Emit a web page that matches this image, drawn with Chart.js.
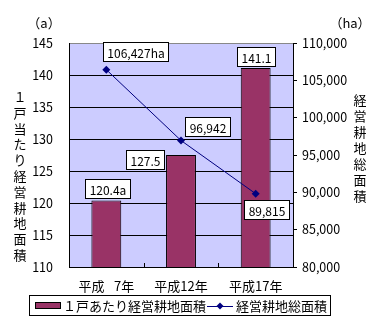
<!DOCTYPE html>
<html lang="ja">
<head>
<meta charset="utf-8">
<script src="https://cdn.jsdelivr.net/npm/chart.js@4"></script>
<style>
  html, body { margin: 0; padding: 0; background: #fff; }
  canvas { display: block; }
</style>
</head>
<body>
<canvas id="chart" width="370" height="322"></canvas>
<script>
// Survey years and values
const years = ['平成\u2002 7年', '平成12年', '平成17年'];
const areaPerFarm = [120.4, 127.5, 141.1];   // a (left axis, bars)
const totalArea = [106427, 96942, 89815];    // ha (right axis, line)

// Axis ticks
const perFarmTicks = [110, 115, 120, 125, 130, 135, 140, 145];
const totalTicks = [80000, 85000, 90000, 95000, 100000, 105000, 110000];

const barName = '１戸あたり経営耕地面積';
const lineName = '経営耕地総面積';
const leftTitle = '１戸当たり経営耕地面積';
const rightTitle = '経営耕地総面積';

const FONT = '"Noto Sans CJK JP", "Noto Sans", sans-serif';
const BAR_COLOR = '#993366';
const LINE_COLOR = '#000080';

// where each value box sits relative to its mark
const barLabelShift = [[1, -12], [-36, 4], [0, -11]];
const lineLabelShift = [[29, -18], [26, -14], [11, 16]];

function drawBox(ctx, text, cx, cy) {
    ctx.font = '12px ' + FONT;
    const w = Math.round(ctx.measureText(text).width) + 8;
    const h = 19;
    const x = Math.round(cx - w / 2) + 0.5;
    const y = Math.round(cy - h / 2) + 0.5;
    ctx.fillStyle = '#fff';
    ctx.fillRect(x, y, w, h);
    ctx.strokeStyle = '#000';
    ctx.lineWidth = 1;
    ctx.strokeRect(x, y, w, h);
    ctx.fillStyle = '#000';
    ctx.textAlign = 'center';
    ctx.textBaseline = 'middle';
    ctx.fillText(text, x + w / 2, y + h / 2 + 1);
}

const plotBackground = {
    id: 'plotBackground',
    beforeDraw(chart) {
        const { ctx, chartArea: a } = chart;
        ctx.save();
        ctx.fillStyle = '#ccccff';
        ctx.fillRect(a.left, a.top, a.right - a.left, a.bottom - a.top);
        ctx.restore();
    }
};

// small inward ticks on the category axis, between the groups
const innerTicks = {
    id: 'innerTicks',
    afterDatasetsDraw(chart) {
        const { ctx, chartArea: a } = chart;
        const xs = chart.scales.x;
        ctx.save();
        ctx.strokeStyle = '#000';
        ctx.lineWidth = 1;
        for (let i = 0; i < years.length - 1; i++) {
            const px = Math.round((xs.getPixelForTick(i) + xs.getPixelForTick(i + 1)) / 2) + 0.5;
            ctx.beginPath();
            ctx.moveTo(px, a.bottom);
            ctx.lineTo(px, a.bottom - 4);
            ctx.stroke();
        }
        ctx.restore();
    }
};

const valueLabels = {
    id: 'valueLabels',
    afterDatasetsDraw(chart) {
        const ctx = chart.ctx;
        ctx.save();
        chart.getDatasetMeta(0).data.forEach((bar, i) => {
            const text = areaPerFarm[i].toFixed(1) + (i === 0 ? 'a' : '');
            drawBox(ctx, text, bar.x + barLabelShift[i][0], bar.y + barLabelShift[i][1]);
        });
        chart.getDatasetMeta(1).data.forEach((pt, i) => {
            const text = totalArea[i].toLocaleString('en-US') + (i === 0 ? 'ha' : '');
            drawBox(ctx, text, pt.x + lineLabelShift[i][0], pt.y + lineLabelShift[i][1]);
        });
        ctx.restore();
    }
};

// unit marks, upright vertical axis titles and the boxed legend
const decorations = {
    id: 'decorations',
    afterDraw(chart) {
        const ctx = chart.ctx;
        ctx.save();
        ctx.fillStyle = '#000';
        ctx.textAlign = 'center';
        ctx.textBaseline = 'middle';
        ctx.font = '13px ' + FONT;
        ctx.fillText('（a）', 44, 23);
        ctx.fillText('（ha）', 350, 23);

        [...leftTitle].forEach((ch, i) => ctx.fillText(ch, 20, 97 + i * 15.8));
        [...rightTitle].forEach((ch, i) => ctx.fillText(ch, 360, 100 + i * 16));

        // legend
        ctx.strokeStyle = '#000';
        ctx.lineWidth = 1;
        ctx.strokeRect(29.5, 295.5, 301, 20);

        ctx.fillStyle = BAR_COLOR;
        ctx.fillRect(35.5, 302.5, 25, 6);
        ctx.strokeRect(35.5, 302.5, 25, 6);

        ctx.fillStyle = '#000';
        ctx.textAlign = 'left';
        const ty = 306;
        ctx.fillText(barName, 63, ty);
        const x1 = 63 + ctx.measureText(barName).width + 1;

        ctx.strokeStyle = LINE_COLOR;
        ctx.beginPath();
        ctx.moveTo(x1, ty + 0.5);
        ctx.lineTo(x1 + 26, ty + 0.5);
        ctx.stroke();
        ctx.fillStyle = LINE_COLOR;
        const dx = x1 + 13;
        ctx.beginPath();
        ctx.moveTo(dx, ty - 3.5);
        ctx.lineTo(dx + 3.5, ty);
        ctx.lineTo(dx, ty + 3.5);
        ctx.lineTo(dx - 3.5, ty);
        ctx.closePath();
        ctx.fill();

        ctx.fillStyle = '#000';
        ctx.fillText(lineName, x1 + 29, ty);
        ctx.restore();
    }
};

new Chart(document.getElementById('chart'), {
    data: {
        labels: years,
        datasets: [
            {
                type: 'bar',
                label: barName,
                data: areaPerFarm,
                yAxisID: 'y',
                backgroundColor: BAR_COLOR,
                borderColor: '#000',
                borderWidth: 1,
                barPercentage: 0.4,
                categoryPercentage: 1.0,
                order: 1
            },
            {
                type: 'line',
                label: lineName,
                data: totalArea,
                yAxisID: 'y1',
                borderColor: LINE_COLOR,
                borderWidth: 1,
                pointStyle: 'rectRot',
                pointRadius: 4,
                pointBackgroundColor: LINE_COLOR,
                pointBorderColor: LINE_COLOR,
                pointBorderWidth: 0,
                tension: 0,
                order: 0
            }
        ]
    },
    options: {
        responsive: false,
        devicePixelRatio: 1,
        animation: false,
        layout: { padding: { top: 43, left: 0, right: 0, bottom: 0 } },
        plugins: {
            legend: { display: false },
            tooltip: { enabled: false }
        },
        scales: {
            x: {
                offset: true,
                grid: { display: false, drawTicks: false },
                border: { display: true, color: '#000', width: 1 },
                ticks: { color: '#000', font: { family: FONT, size: 13 }, padding: 11 },
                afterFit(scale) { scale.height = 55; }
            },
            y: {
                position: 'left',
                min: perFarmTicks[0],
                max: perFarmTicks[perFarmTicks.length - 1],
                grid: {
                    drawTicks: false,
                    color: ctx => ctx.tick && ctx.tick.value === perFarmTicks[perFarmTicks.length - 1] ? '#888' : '#000'
                },
                border: { display: true, color: '#000', width: 1 },
                ticks: {
                    stepSize: perFarmTicks[1] - perFarmTicks[0],
                    color: '#000',
                    font: { family: FONT, size: 12.5 },
                    padding: 16
                },
                afterFit(scale) { scale.width = 69; }
            },
            y1: {
                position: 'right',
                min: totalTicks[0],
                max: totalTicks[totalTicks.length - 1],
                grid: { drawOnChartArea: false, drawTicks: true, tickLength: 4, color: '#000' },
                border: { display: true, color: '#000', width: 1 },
                ticks: {
                    stepSize: totalTicks[1] - totalTicks[0],
                    color: '#000',
                    font: { family: FONT, size: 12.5 },
                    padding: 5,
                    callback: v => v.toLocaleString('en-US')
                },
                afterFit(scale) { scale.width = 77; }
            }
        }
    },
    plugins: [plotBackground, innerTicks, valueLabels, decorations]
});
</script>
</body>
</html>
